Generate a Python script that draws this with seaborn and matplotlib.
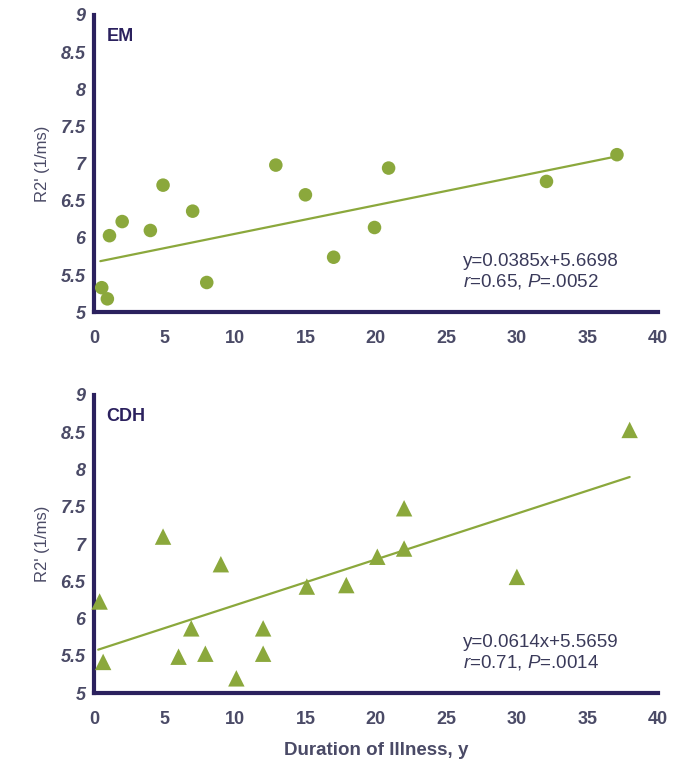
import numpy as np
import pandas as pd
import seaborn as sns
import matplotlib.pyplot as plt

# EM group
em_x = [0.55, 0.95, 1.1, 2.0, 4.0, 4.9, 7.0, 8.0, 12.9, 15.0, 17.0, 19.9, 20.9, 32.1, 37.1]
em_y = [5.33, 5.18, 6.03, 6.22, 6.10, 6.71, 6.36, 5.40, 6.98, 6.58, 5.74, 6.14, 6.94, 6.76, 7.12]
em_fit = (0.0385, 5.6698)
em_text = ["y=0.0385x+5.6698", r"$\it{r}$=0.65, $\it{P}$=.0052"]

# CDH group
cdh_x = [0.4, 0.65, 4.9, 6.0, 6.9, 7.9, 9.0, 10.1, 12.0, 12.0, 15.1, 17.9, 20.1, 22.0, 22.0, 30.0, 38.0]
cdh_y = [6.23, 5.42, 7.10, 5.49, 5.87, 5.53, 6.73, 5.20, 5.87, 5.53, 6.43, 6.45, 6.83, 6.94, 7.48, 6.56, 8.53]
cdh_fit = (0.0614, 5.5659)
cdh_text = ["y=0.0614x+5.5659", r"$\it{r}$=0.71, $\it{P}$=.0014"]

x_ticks = list(range(0, 45, 5))
y_ticks = [5, 5.5, 6, 6.5, 7, 7.5, 8, 8.5, 9]

sns.set_theme(style="white")
plt.rcParams['font.family'] = ['Liberation Sans', 'DejaVu Sans']
plt.rcParams['mathtext.fontset'] = 'custom'
plt.rcParams['mathtext.rm'] = 'Liberation Sans'
plt.rcParams['mathtext.it'] = 'Liberation Sans:italic'

navy = '#2b215e'
green = '#8ba83c'
label_col = '#4a4a66'

fig = plt.figure(figsize=(6.81, 7.69), dpi=100)
ax1 = fig.add_axes([0.138, 0.594, 0.828, 0.3865])
ax2 = fig.add_axes([0.138, 0.0985, 0.828, 0.388])

panels = [
    (ax1, em_x, em_y, em_fit, em_text, 'EM', 'o', 95),
    (ax2, cdh_x, cdh_y, cdh_fit, cdh_text, 'CDH', '^', 140),
]

for ax, xs, ys, fit, txt, name, marker, size in panels:
    df = pd.DataFrame({'x': xs, 'y': ys})
    sns.scatterplot(data=df, x='x', y='y', ax=ax, marker=marker, s=size,
                    color=green, edgecolor='none', zorder=3, clip_on=False)
    xl = np.array([min(xs) - 0.1, max(xs)])
    line = pd.DataFrame({'x': xl, 'y': fit[0] * xl + fit[1]})
    sns.lineplot(data=line, x='x', y='y', ax=ax, color=green, linewidth=1.6, zorder=2)

    ax.set_xlim(0, 40)
    ax.set_ylim(5, 9)
    ax.set_xticks(x_ticks)
    ax.set_yticks(y_ticks)
    ax.set_yticklabels([f"{v:g}" for v in y_ticks], fontstyle='italic')
    ax.tick_params(direction='in', length=5, width=3, color=navy,
                   labelsize=13, labelcolor=label_col, pad=6)
    for lab in ax.get_xticklabels() + ax.get_yticklabels():
        lab.set_fontweight('bold')
    ax.tick_params(axis='x', pad=13)
    for side in ['top', 'right']:
        ax.spines[side].set_visible(False)
    for side in ['left', 'bottom']:
        ax.spines[side].set_color(navy)
        ax.spines[side].set_linewidth(3)
    ax.set_ylabel("R2' (1/ms)", fontsize=12, color=label_col, labelpad=8)
    ax.set_xlabel('')
    ax.text(0.022, 0.955, name, transform=ax.transAxes, fontsize=13,
            fontweight='bold', color=navy, va='top', ha='left')
    ax.text(0.655, 0.072, txt[0] + "\n" + txt[1], transform=ax.transAxes,
            fontsize=13.5, color='#3a3a5a', va='bottom', ha='left', linespacing=1.15)

ax2.set_xlabel('Duration of Illness, y', fontsize=13.5, fontweight='bold',
               color=label_col, labelpad=10)

fig.savefig('out.png', dpi=100)
